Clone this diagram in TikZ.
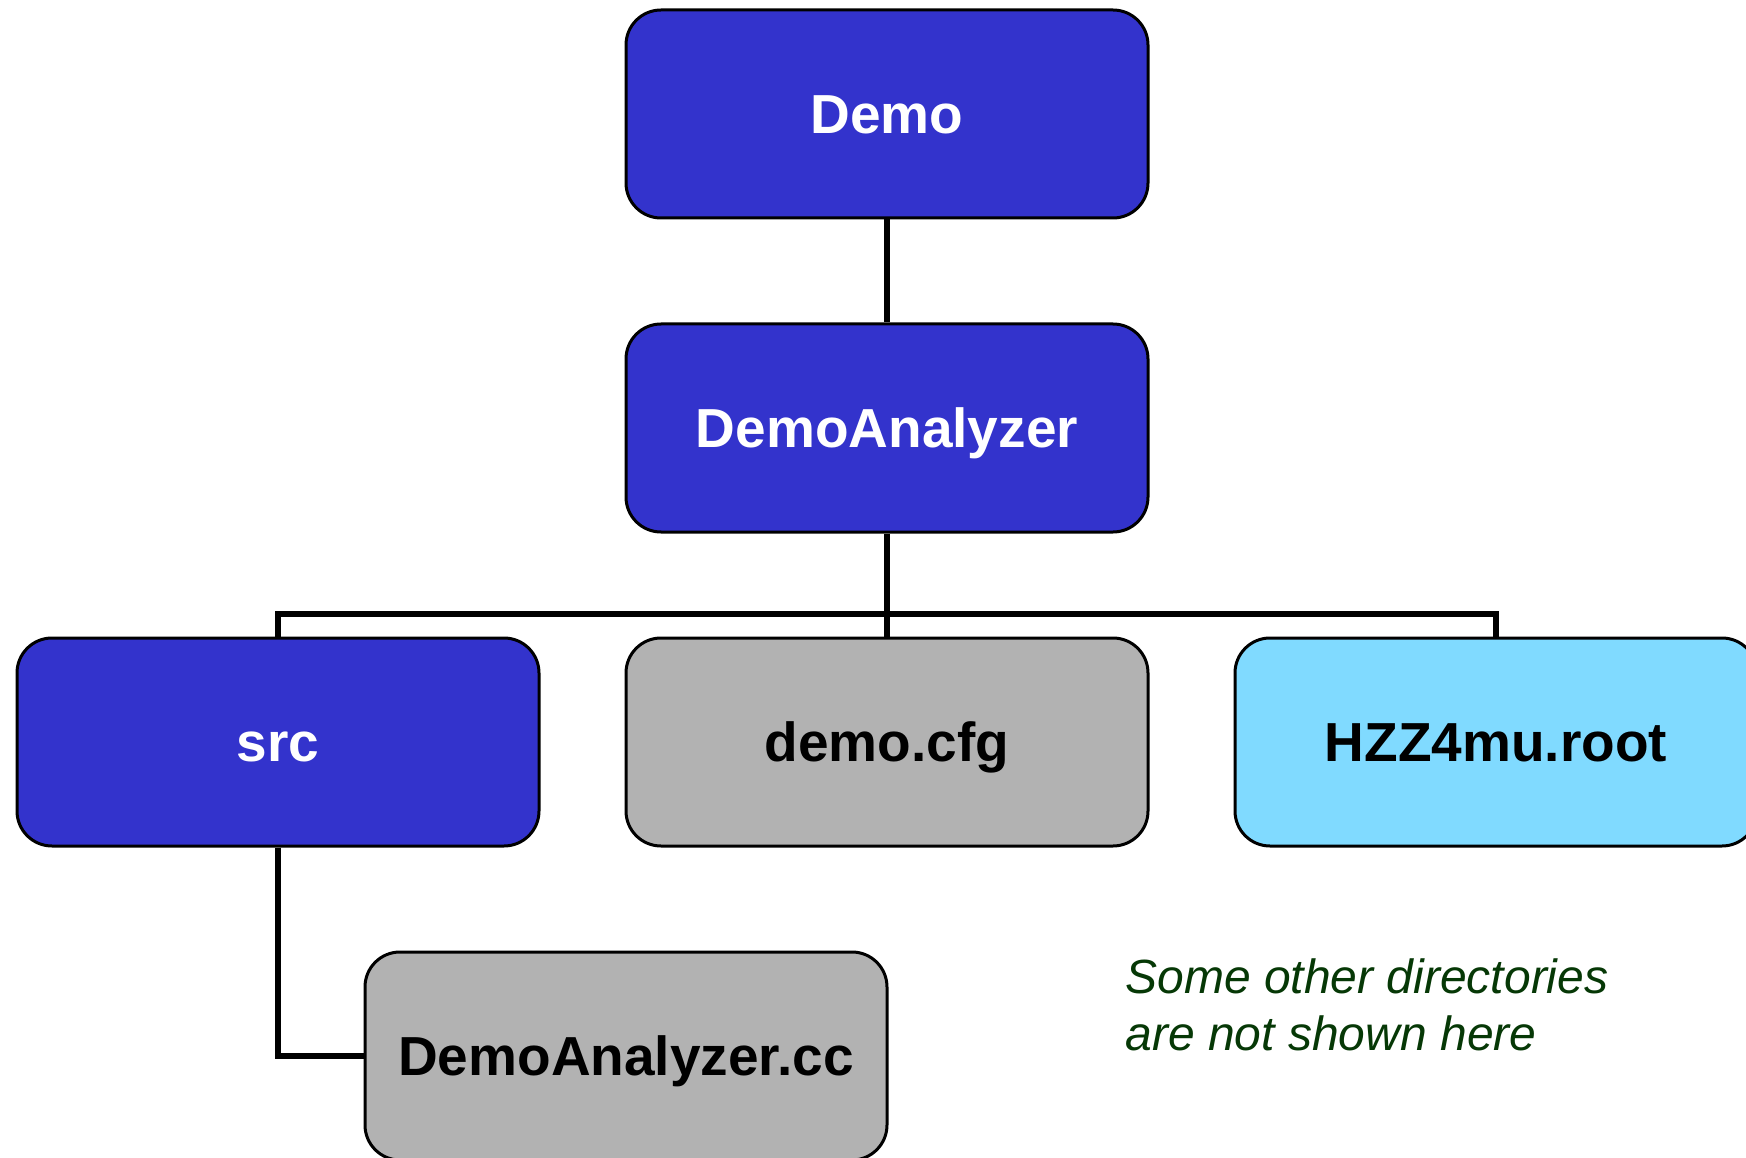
\documentclass[tikz,border=0pt]{standalone}
\usepackage{fontspec}
\setmainfont{Liberation Sans}
\begin{document}
\begin{tikzpicture}[x=1pt,y=1pt,
  box/.style={draw=black, line width=3pt, rounded corners=35pt,
    minimum width=522pt, minimum height=208pt, inner sep=0pt,
    text height=39.4pt, text depth=0pt,
    font=\fontsize{55}{60}\selectfont\bfseries},
  dirbox/.style={box, fill=dirblue, text=white},
  filebox/.style={box, fill=filegray, text=black},
  rootbox/.style={box, fill=rootcyan, text=black},
  link/.style={line width=6.5pt}]
\definecolor{dirblue}{HTML}{3333CC}
\definecolor{filegray}{HTML}{B2B2B2}
\definecolor{rootcyan}{HTML}{80DAFF}
\definecolor{notegreen}{HTML}{063806}
\useasboundingbox (0,0) rectangle (1746,-1158);
\clip (0,0) rectangle (1746,-1158);

\coordinate (bus) at (887,-614);

% directory tree
\node[dirbox]  (demo) at (887,-114)  {Demo};
\node[dirbox]  (ana)  at (887,-428)  {DemoAnalyzer};
\node[dirbox]  (src)  at (278,-742)  {src};
\node[filebox] (cfg)  at (887,-742)  {demo.cfg};
\node[rootbox] (hzz)  at (1496,-742) {HZZ4mu.root};
\node[filebox] (cc)   at (626,-1056) {DemoAnalyzer.cc};

% tree connectors
\draw[link] (demo.south) -- (ana.north);
\draw[link] (ana.south) -- (bus);
\draw[link] (src.north) |- (bus) -| (hzz.north);
\draw[link] (bus) -- (cfg.north);
\draw[link] (src.south) |- (cc.west);

% note
\node[anchor=north west, align=left, text=notegreen,
  font=\fontsize{48}{57}\selectfont\itshape] (note) at (1122,-955)
  {Some other directories\\are not shown here};
\end{tikzpicture}
\end{document}
